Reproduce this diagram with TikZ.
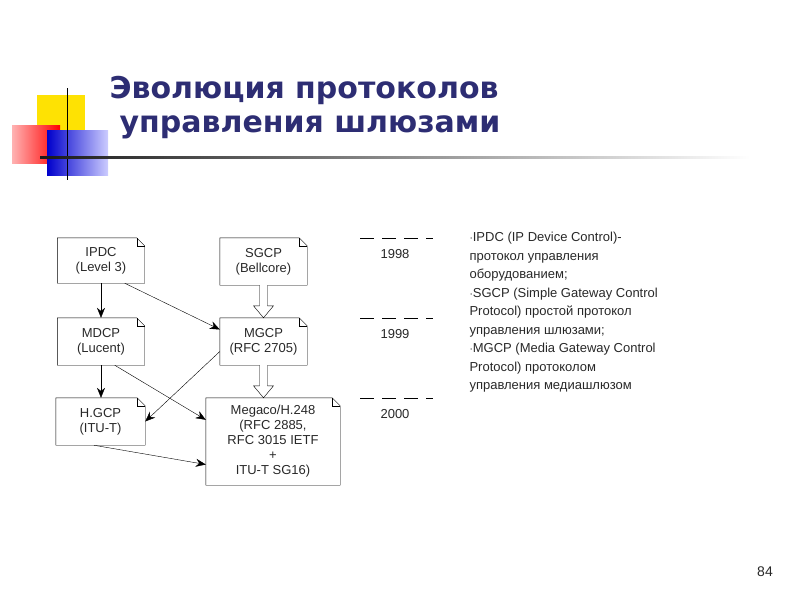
\documentclass[tikz,border=0pt]{standalone}
\usepackage{fontspec}
\setmainfont{Liberation Sans}
\newfontfamily\titlefont{DejaVu Sans}
\usetikzlibrary{positioning,calc,arrows.meta}
\definecolor{titleblue}{RGB}{45,45,115}
\definecolor{txtgray}{RGB}{40,40,40}
\tikzset{
  docbox/.style={align=center, inner sep=0pt, font=\fontsize{13}{15}\selectfont, text=txtgray},
  thin arrow/.style={-{Stealth[length=10pt,width=8pt]}, thin},
  yearlabel/.style={font=\fontsize{13}{15}\selectfont, text=txtgray},
}
% hollow broad arrow from #1 down to #2
\newcommand{\fatarrow}[2]{%
  \draw[thin, fill=white] ($(#1)+(-4,0)$) -- ($(#2)+(-4,-12)$) -- ($(#2)+(-10,-12)$) -- (#2)
    -- ($(#2)+(10,-12)$) -- ($(#2)+(4,-12)$) -- ($(#1)+(4,0)$);}
\begin{document}
\begin{tikzpicture}[x=1pt,y=-1pt]
\useasboundingbox (0,0) rectangle (800,600);
% decoration squares and lines
\fill[yellow!85!orange] (37,95) rectangle (85,140);
\shade[left color=red!30, right color=red] (12,125) rectangle (60,163);
\shade[left color=blue!80!black, right color=blue!20] (47,130) rectangle (108,175);
\draw[black, line width=1pt] (67,88) -- (67,180);
\shade[left color=black!90, right color=white] (40,156) rectangle (750,158.5);
% title
\node[anchor=west, font=\titlefont\bfseries\fontsize{30}{34}\selectfont, text=titleblue] (t1) at (106,90) {Эволюция протоколов};
\node[anchor=west, font=\titlefont\bfseries\fontsize{30}{34}\selectfont, text=titleblue] (t2) at (116,127) {управления шлюзами};

% protocol boxes
\node[docbox, minimum width=87pt, minimum height=45pt] (ipdc) at (101,260.5) {IPDC\\(Level 3)};
\node[docbox, minimum width=87pt, minimum height=47pt] (sgcp) at (263.5,261.5) {SGCP\\(Bellcore)};
\node[docbox, minimum width=87pt, minimum height=47pt] (mdcp) at (101,341.5) {MDCP\\(Lucent)};
\node[docbox, minimum width=87pt, minimum height=47pt] (mgcp) at (263.5,341.5) {MGCP\\(RFC 2705)};
\node[docbox, minimum width=89pt, minimum height=47pt] (hgcp) at (100.5,421.5) {H.GCP\\(ITU-T)};
\node[docbox, minimum width=134pt, minimum height=87pt] (megaco) at (273,441.5) {Megaco/H.248\\(RFC 2885,\\RFC 3015 IETF\\+\\ITU-T SG16)};
\foreach \n in {ipdc,sgcp,mdcp,mgcp,hgcp,megaco}{
  \draw[thin] (\n.north west) -- ($(\n.north east)+(-8,0)$) -- ($(\n.north east)+(0,8)$)
    -- (\n.south east) -- (\n.south west) -- cycle;
  \draw[very thin] ($(\n.north east)+(-8,0)$) -- ($(\n.north east)+(-8,8)$) -- ($(\n.north east)+(0,8)$);
}

% connectors
\draw[thin arrow] (ipdc.south) -- (mdcp.north);
\draw[thin arrow] (mdcp.south) -- (hgcp.north -| mdcp.south);
\draw[thin arrow] ($(ipdc.south east)+(-20,0)$) -- ($(mgcp.west)+(0,-12)$);
\draw[thin arrow] ($(mdcp.south east)+(-30,0)$) -- ($(megaco.north west)+(0,22)$);
\draw[thin arrow] ($(mgcp.west)+(0,10)$) -- (hgcp.east);
\draw[thin arrow] ($(hgcp.south west)+(38,0)$) -- ($(megaco.west)+(0,23)$);
\coordinate (f1) at (mgcp.north);
\coordinate (f2) at (megaco.north -| mgcp.south);
\fatarrow{sgcp.south}{f1}
\fatarrow{mgcp.south}{f2}

% years
\foreach \y/\yr in {238/1998,318/1999,398/2000}{
  \draw[thin, dash pattern=on 14pt off 8pt] (360,\y) -- (433,\y);
  \node[yearlabel] (y\yr) at (395,\y+16) {\yr};
}

% explanation text
\node[anchor=north west, align=left, font=\fontsize{13}{18.5}\selectfont, text=txtgray] (expl) at (466,229)
{$\cdot$IPDC (IP Device Control)-\\протокол управления\\оборудованием;\\$\cdot$SGCP (Simple Gateway Control\\Protocol) простой протокол\\управления шлюзами;\\$\cdot$MGCP (Media Gateway Control\\Protocol) протоколом\\управления медиашлюзом};
\node[font=\fontsize{14}{16}\selectfont, text=txtgray] (pg) at (765,572) {84};
\end{tikzpicture}
\end{document}
